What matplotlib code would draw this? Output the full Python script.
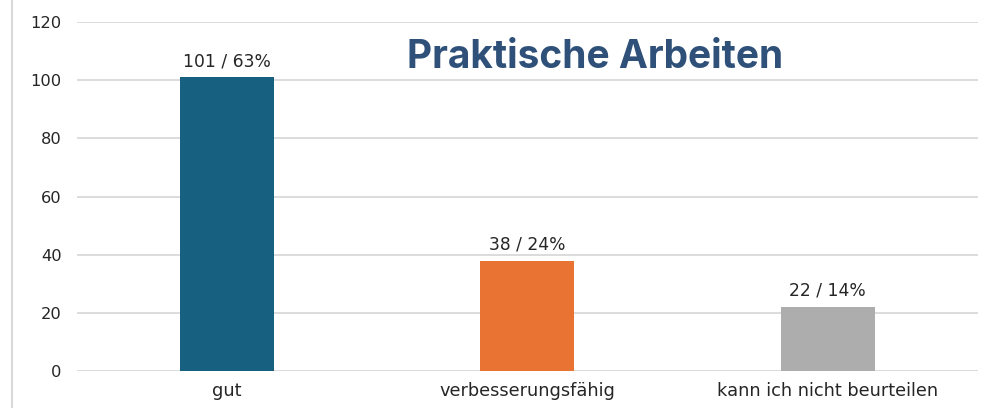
import matplotlib.pyplot as plt
from matplotlib.lines import Line2D

categories = ['gut', 'verbesserungsfähig', 'kann ich nicht beurteilen']
counts = [101, 38, 22]
labels = ['101 / 63%', '38 / 24%', '22 / 14%']
colors = ['#17607F', '#E87333', '#ADADAD']

plt.rcParams['font.family'] = ['DejaVu Sans']

fig = plt.figure(figsize=(9.99, 4.08), dpi=100)
ax = fig.add_axes([0.077, 0.0907, 0.902, 0.855])

x = range(len(categories))
ax.bar(x, counts, width=0.313, color=colors, zorder=3)
for xi, c, lab in zip(x, counts, labels):
    ax.text(xi, c + 2.5, lab, ha='center', va='bottom', fontsize=12.3, color='#262626')

ax.set_xlim(-0.5, 2.5)
ax.set_ylim(0, 120)
ax.set_yticks(range(0, 121, 20))
ax.set_xticks(list(x))
ax.set_xticklabels(categories, fontsize=12.8, color='#262626')
ax.tick_params(axis='y', labelsize=11.7, labelcolor='#262626', length=0, pad=11)
ax.tick_params(axis='x', length=0, pad=8)
ax.grid(axis='y', color='#D9D9D9', linewidth=1.3, zorder=0)
for s in ax.spines.values():
    s.set_visible(False)

ax.text(0.575, 0.9, 'Praktische Arbeiten', transform=ax.transAxes, ha='center', va='center',
        fontsize=28, fontweight='bold', color='#2E5079', family=['Inter', 'DejaVu Sans'])

# light frame line at the left edge
fig.add_artist(Line2D([0.012, 0.012], [0, 1], transform=fig.transFigure, color='#D9D9D9', linewidth=1.5))

fig.savefig('out.png', dpi=100)
